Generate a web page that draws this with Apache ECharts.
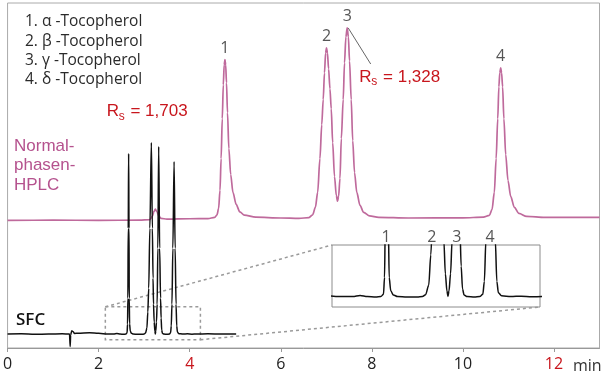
<!DOCTYPE html>
<html><head><meta charset="utf-8">
<script src="https://cdn.jsdelivr.net/npm/echarts@6/dist/echarts.min.js"></script>
<style>html,body{margin:0;padding:0;background:#fff}#c{width:605px;height:372px}</style>
</head><body><div id="c"></div>
<script>
// ---- data ----
const xTicks = [0, 2, 4, 6, 8, 10, 12];
const redTicks = [4, 12];
const compounds = ['1. α -Tocopherol', '2. β -Tocopherol', '3. γ -Tocopherol', '4. δ -Tocopherol'];
const peakNames = ['1', '2', '3', '4'];
const rsValues = ['1,703', '1,328'];

// Normal-phase HPLC trace [time (min), signal]
const hplcTrace = [[0,64.0],[1.0,64.1],[2.0,64.0],[2.9,64.1],[3.12,64.3],[3.18,66],[3.215,68.5],[3.246,69.6],[3.28,68.3],[3.32,66.3],[3.37,65.0],[3.5,64.6],[4.0,64.8],[4.4,64.9],[4.55,65.5],[4.60,66.8],[4.635,70],[4.665,79],[4.69,95],[4.715,115],[4.738,132],[4.757,142],[4.774,144.6],[4.79,142],[4.808,133],[4.83,118],[4.86,100],[4.90,87],[4.95,78],[5.02,72],[5.10,68.3],[5.2,66.6],[5.45,65.6],[6.0,65.2],[6.4,65.0],[6.62,65.4],[6.70,66.8],[6.76,70.5],[6.81,78],[6.86,95],[6.90,112],[6.932,124.6],[6.96,138],[6.985,148],[7.004,150.5],[7.025,148],[7.05,140],[7.08,130],[7.108,120],[7.14,103],[7.18,86],[7.22,76.5],[7.246,73.6],[7.27,76],[7.30,85],[7.33,105],[7.371,124.6],[7.40,143],[7.43,156],[7.459,160.5],[7.485,156],[7.51,144],[7.547,124.6],[7.58,104],[7.62,88],[7.67,78],[7.74,71.5],[7.82,68],[7.95,66.3],[8.15,65.5],[8.8,65.2],[10.0,65.3],[10.45,65.6],[10.58,66.5],[10.64,69.5],[10.69,78],[10.73,95],[10.765,115],[10.79,131],[10.81,138],[10.83,140.5],[10.85,138],[10.872,131],[10.90,115],[10.94,97],[10.99,84],[11.05,76],[11.13,70.5],[11.23,67.5],[11.4,66],[11.8,65.5],[13.0,65.5]];
const hplcPeakTimes = [4.774, 7.004, 7.459, 10.83];
const hplcPeakHeights = [144.6, 150.5, 160.5, 140.5];

// SFC trace [time (min), signal]
const sfcTrace = [[0,7.0],[0.3,7.1],[0.6,6.9],[0.9,7.0],[1.2,7.1],[1.36,7.0],[1.375,0.7],[1.385,6.5],[1.41,8.6],[1.44,8.2],[1.47,7.3],[1.55,7.4],[1.8,7.6],[2.0,7.4],[2.2,7.0],[2.33,7.0],[2.40,7.3],[2.47,7.0],[2.55,6.9],[2.60,7.0],[2.625,7.6],[2.635,12],[2.642,25],[2.65,60],[2.659,97.5],[2.667,60],[2.672,25],[2.68,12],[2.695,8.5],[2.72,7.4],[2.76,7.0],[2.85,6.9],[2.95,6.9],[3.00,7.0],[3.03,7.5],[3.06,10],[3.08,18],[3.10,30],[3.125,60],[3.158,103],[3.18,60],[3.195,35],[3.205,22],[3.22,13],[3.235,8.5],[3.245,7.0],[3.255,8.5],[3.27,13],[3.285,22],[3.30,50],[3.319,101],[3.34,50],[3.36,25],[3.372,15],[3.385,9],[3.40,7.4],[3.43,7.0],[3.5,6.9],[3.55,7.0],[3.58,7.6],[3.595,11],[3.61,22],[3.63,50],[3.657,93.5],[3.68,50],[3.70,22],[3.715,11],[3.73,8],[3.76,7.2],[3.85,7.0],[3.95,7.1],[4.05,6.95],[4.15,7.0],[4.4,7.1],[4.7,7.0],[5.02,7.0]];
const sfcLabelTimes = [2.65, 3.09, 3.33, 3.65];

// zoom window (main chart) and inset ranges
const zoomWindowTime = [2.147, 4.235];
const zoomWindowSignal = [4.15, 20.65];
const insetTime = [2.13, 4.13];
const insetSignal = [4.24, 20.6];

// ---- chart ----
const RED = '#c8161d';
const PINK = '#bf6a9c';
const chart = echarts.init(document.getElementById('c'), null, {renderer: 'canvas'});
const tickFont = '"Open Sans", sans-serif';

chart.setOption({
  animation: false,
  backgroundColor: '#fff',
  grid: [
    {left: 7, right: 5.5, top: 3, bottom: 23, show: true, borderColor: '#aaa', borderWidth: 1, backgroundColor: 'transparent'},
    {left: 332, top: 245, width: 208, height: 62, show: true, borderColor: '#8c8c8c', borderWidth: 1, backgroundColor: '#fff'}
  ],
  xAxis: [
    {type: 'value', gridIndex: 0, min: 0, max: 13, interval: 2,
     splitLine: {show: false},
     axisLine: {show: true, onZero: false, lineStyle: {color: '#999', width: 1}},
     axisTick: {show: true, length: 4, lineStyle: {color: '#999'}, customValues: xTicks},
     axisLabel: {customValues: xTicks, margin: 8, fontSize: 16, fontFamily: tickFont,
       color: (v) => redTicks.includes(Number(v)) ? RED : '#222'}},
    {type: 'value', gridIndex: 1, min: insetTime[0], max: insetTime[1], show: false}
  ],
  yAxis: [
    {type: 'value', gridIndex: 0, min: 0, max: 173, show: false},
    {type: 'value', gridIndex: 1, min: insetSignal[0], max: insetSignal[1], show: false}
  ],
  series: [
    {type: 'line', name: 'HPLC', xAxisIndex: 0, yAxisIndex: 0, data: hplcTrace,
     showSymbol: false, smooth: 0.3, smoothMonotone: 'x',
     lineStyle: {color: PINK, width: 1.7}},
    {type: 'line', name: 'SFC', xAxisIndex: 0, yAxisIndex: 0, data: sfcTrace,
     showSymbol: false, smooth: 0.3, smoothMonotone: 'x',
     lineStyle: {color: '#111', width: 1.5},
     markArea: {silent: true,
       itemStyle: {color: 'rgba(0,0,0,0)', borderColor: '#9a9a9a', borderWidth: 1.5, borderType: [3, 3]},
       data: [[{coord: [zoomWindowTime[0], zoomWindowSignal[1]]}, {coord: [zoomWindowTime[1], zoomWindowSignal[0]]}]]}},
    {type: 'line', name: 'SFC zoom', xAxisIndex: 1, yAxisIndex: 1, data: sfcTrace,
     showSymbol: false, smooth: 0.3, smoothMonotone: 'x', clip: true,
     lineStyle: {color: '#111', width: 1.5}},
    {type: 'scatter', xAxisIndex: 0, yAxisIndex: 0, symbolSize: 0, silent: true,
     data: hplcPeakTimes.map((t, i) => ({name: peakNames[i], value: [t, hplcPeakHeights[i]]})),
     label: {show: true, position: 'top', distance: 3, formatter: '{b}', fontSize: 16, fontFamily: tickFont, color: '#2a2a2a'}},
    {type: 'scatter', xAxisIndex: 1, yAxisIndex: 1, symbolSize: 0, silent: true, clip: false,
     data: sfcLabelTimes.map((t, i) => ({name: peakNames[i], value: [t, insetSignal[1]]})),
     label: {show: true, position: 'top', distance: 0, formatter: '{b}', fontSize: 16, fontFamily: tickFont, color: '#2a2a2a'}}
  ]
});

// connecting lines (computed through the axes)
const p1 = chart.convertToPixel({gridIndex: 0}, [zoomWindowTime[0], zoomWindowSignal[1]]);
const p2 = chart.convertToPixel({gridIndex: 1}, [insetTime[0], insetSignal[1]]);
const p3 = chart.convertToPixel({gridIndex: 0}, [zoomWindowTime[1], zoomWindowSignal[0]]);
const p4 = chart.convertToPixel({gridIndex: 1}, [insetTime[1], insetSignal[0]]);
const pk3 = chart.convertToPixel({gridIndex: 0}, [hplcPeakTimes[2], hplcPeakHeights[2]]);

const dashStyle = {stroke: '#9a9a9a', lineWidth: 1.5, lineDash: [3, 3]};
function rs(x, y, value) {
  return [
    {type: 'text', x: x, y: y, style: {text: 'R', font: '17px "Liberation Sans", Arial, sans-serif', fill: RED, verticalAlign: 'middle'}},
    {type: 'text', x: x + 12, y: y + 5, style: {text: 's', font: '12px "Liberation Sans", Arial, sans-serif', fill: RED, verticalAlign: 'middle'}},
    {type: 'text', x: x + 19, y: y, style: {text: ' = ' + value, font: '17px "Liberation Sans", Arial, sans-serif', fill: RED, verticalAlign: 'middle'}}
  ];
}
chart.setOption({
  graphic: [
    {type: 'line', shape: {x1: p1[0], y1: p1[1], x2: p2[0], y2: p2[1]}, style: dashStyle, silent: true},
    {type: 'line', shape: {x1: p3[0], y1: p3[1], x2: p4[0], y2: p4[1]}, style: dashStyle, silent: true},
    {type: 'line', shape: {x1: pk3[0] + 1, y1: pk3[1], x2: 370.7, y2: 64}, style: {stroke: '#666', lineWidth: 1}, silent: true},
    {type: 'text', x: 25, y: 12.4, style: {text: compounds.join('\n'), font: '15.5px "Open Sans", sans-serif', lineHeight: 19.3, fill: '#2a2a2a', verticalAlign: 'top'}},
    {type: 'text', x: 14, y: 136, style: {text: 'Normal-\nphasen-\nHPLC', font: '17px "Liberation Sans", Arial, sans-serif', lineHeight: 19.7, fill: '#b5528e', verticalAlign: 'top'}},
    {type: 'text', x: 16, y: 320, style: {text: 'SFC', font: '600 17px "Open Sans", sans-serif', fill: '#111', verticalAlign: 'middle'}},
    {type: 'text', x: 573, y: 366, style: {text: 'min', font: '16px "Open Sans", sans-serif', fill: '#333', verticalAlign: 'middle'}},
    ...rs(106.7, 111.7, rsValues[0]),
    ...rs(359.3, 77, rsValues[1])
  ]
});
</script>
</body></html>
